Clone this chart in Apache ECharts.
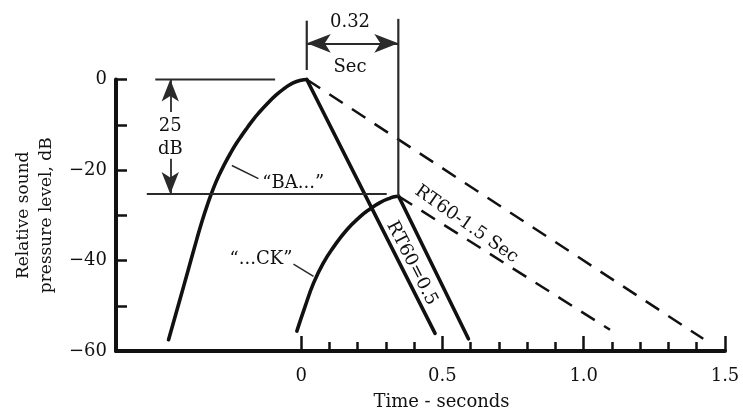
<!DOCTYPE html>
<html>
<head>
<meta charset="utf-8">
<script src="https://cdn.jsdelivr.net/npm/echarts@6/dist/echarts.min.js"></script>
<style>
html,body{margin:0;padding:0;background:#fff;}
#c{width:743px;height:417px;}
</style>
</head>
<body>
<div id="c"></div>
<script>
// ---------- data ----------
const xTickValues = [0, 0.5, 1.0, 1.5];
const xMinorTickValues = [0.1, 0.2, 0.3, 0.4, 0.6, 0.7, 0.8, 0.9, 1.1, 1.2, 1.3, 1.4];
const yTickValues = [-60, -50, -40, -30, -20, -10, 0];
const yLabelValues = [-60, -40, -20, 0];

// "BA..." envelope
const baTime  = [-0.469, -0.43, -0.40, -0.37, -0.35, -0.33, -0.31, -0.29, -0.27, -0.25, -0.23, -0.21, -0.19, -0.17, -0.15, -0.12, -0.09, -0.06, -0.03, 0.0, 0.02];
const baLevel = [-57.5, -48.9, -42.2, -35.5, -31.2, -27.4, -24.0, -21.1, -18.6, -16.3, -14.2, -12.35, -10.6, -8.9, -7.4, -5.35, -3.5, -2.0, -0.8, -0.14, 0];

// "...CK" envelope
const ckTime  = [-0.015, 0.014, 0.044, 0.079, 0.114, 0.162, 0.209, 0.244, 0.279, 0.315, 0.335, 0.345];
const ckLevel = [-55.6, -50.2, -45.0, -40.5, -37.1, -33.2, -30.3, -28.6, -27.2, -26.2, -25.85, -25.8];

// decays: [time, level] pairs
const decayBA05 = [[0.02, 0], [0.474, -56.1]];     // RT60 = 0.5 from "BA" peak
const decayCK05 = [[0.345, -25.8], [0.592, -57.3]]; // RT60 = 0.5 from "CK" peak
const decayBA15 = [[0.02, 0], [1.423, -57.3]];     // RT60 = 1.5
const decayCK15 = [[0.345, -25.8], [1.093, -55.3]];

// reference lines
const refTop    = [[-0.516, 0], [-0.092, 0]];
const refLow    = [[-0.546, -25.3], [0.303, -25.3]];
const markLeft  = [[0.02, 13.0], [0.02, 2.1]];
const markRight = [[0.344, 13.4], [0.344, -25.8]];
const leaderBA  = [[-0.245, -19.0], [-0.151, -21.9]];
const leaderCK  = [[-0.027, -40.8], [0.044, -43.5]];

// arrows (start, tip)
const arrowUp25   = [[-0.463, -7.2], [-0.463, 0]];
const arrowDown25 = [[-0.463, -17.5], [-0.463, -25.3]];
const arrowSpan   = [[0.02, 8.0], [0.344, 8.0]];

// annotation texts
const noteText  = ['0.32', 'Sec', '25', 'dB', '\u201cBA...\u201d', '\u201c...CK\u201d', 'RT60=0.5', 'RT60-1.5 Sec'];
const noteTime  = [0.173, 0.173, -0.463, -0.463, -0.028, -0.142, 0.392, 0.585];
const noteLevel = [12.6, 2.8, -10.3, -15.4, -23.0, -39.7, -40.6, -32.0];
const noteAngle = [0, 0, 0, 0, 0, 0, -63, -35];

// ---------- chart ----------
const FONT = 'DejaVu Serif';
const INK = '#111';
const THIN = '#2a2a2a';

const zip = (a, b) => a.map((v, i) => [v, b[i]]);

function lineSeries(data, opts) {
  return Object.assign({
    type: 'line', data: data, symbol: 'none', silent: true, clip: false,
    smooth: false, animation: false,
    lineStyle: { color: INK, width: 3.6, cap: 'round', join: 'round' }
  }, opts || {});
}

function arrowSeries(seg, both, size) {
  return {
    type: 'lines', coordinateSystem: 'cartesian2d', silent: true, clip: false, animation: false,
    symbol: [both ? 'arrow' : 'none', 'arrow'], symbolSize: [size, size],
    lineStyle: { color: THIN, width: 1.8, opacity: 1 },
    itemStyle: { color: INK },
    data: [{ coords: seg }]
  };
}

const chart = echarts.init(document.getElementById('c'));

const option = {
  animation: false,
  backgroundColor: '#fff',
  grid: { left: 116, right: 18, top: 79.5, bottom: 62 },
  xAxis: [{
    type: 'value', min: -0.655, max: 1.5, position: 'bottom',
    name: 'Time - seconds', nameLocation: 'middle', nameGap: 41,
    nameTextStyle: { fontFamily: FONT, fontSize: 18, color: INK, lineHeight: 20, padding: [0, 0, 0, 42] },
    axisLine: { onZero: false, lineStyle: { color: INK, width: 4 } },
    axisTick: { inside: true, length: 15, customValues: xTickValues, lineStyle: { color: INK, width: 2.5 } },
    axisLabel: { customValues: xTickValues, margin: 16, fontFamily: FONT, fontSize: 18, color: INK,
      formatter: v => (v === 0 ? '0' : v.toFixed(1)) },
    splitLine: { show: false }
  }, {
    type: 'value', min: -0.655, max: 1.5, position: 'bottom',
    axisLine: { show: false, onZero: false },
    axisTick: { inside: true, length: 9, customValues: xMinorTickValues, lineStyle: { color: INK, width: 2.5 } },
    axisLabel: { show: false },
    splitLine: { show: false }
  }],
  yAxis: [{
    type: 'value', min: -60, max: 0, interval: 10,
    name: 'Relative sound\npressure level, dB', nameLocation: 'middle', nameGap: 57,
    nameTextStyle: { fontFamily: FONT, fontSize: 17, color: INK, lineHeight: 23 },
    axisLine: { onZero: false, lineStyle: { color: INK, width: 4 } },
    axisTick: { inside: true, length: 11, customValues: yTickValues, lineStyle: { color: INK, width: 2.5 } },
    axisLabel: { customValues: yLabelValues, margin: 9, fontFamily: FONT, fontSize: 18, color: INK,
      formatter: v => (v < 0 ? '\u2212' + Math.abs(v) : '0') },
    splitLine: { show: false }
  }],
  series: [
    lineSeries(zip(baTime, baLevel), { smooth: true }),
    lineSeries(zip(ckTime, ckLevel), { smooth: true }),
    lineSeries(decayBA05),
    lineSeries(decayCK05),
    lineSeries(decayBA15, { lineStyle: { color: INK, width: 2.5, type: [16, 11] } }),
    lineSeries(decayCK15, { lineStyle: { color: INK, width: 2.5, type: [16, 11] } }),
    lineSeries(refTop,    { lineStyle: { color: THIN, width: 1.8 } }),
    lineSeries(refLow,    { lineStyle: { color: THIN, width: 1.8 } }),
    lineSeries(markLeft,  { lineStyle: { color: THIN, width: 2.2 } }),
    lineSeries(markRight, { lineStyle: { color: THIN, width: 2.2 } }),
    lineSeries(leaderBA,  { lineStyle: { color: THIN, width: 1.5 } }),
    lineSeries(leaderCK,  { lineStyle: { color: THIN, width: 1.5 } }),
    arrowSeries(arrowUp25, false, [13, 22]),
    arrowSeries(arrowDown25, false, [13, 22]),
    arrowSeries(arrowSpan, true, [14, 24]),
    {
      type: 'scatter', silent: true, clip: false, symbolSize: 1,
      itemStyle: { color: 'rgba(0,0,0,0)' },
      data: noteText.map((t, i) => ({
        name: t, value: [noteTime[i], noteLevel[i]],
        label: { rotate: noteAngle[i] }
      })),
      label: { show: true, position: 'inside', formatter: '{b}', fontFamily: FONT, fontSize: 18,
        color: INK, textBorderWidth: 0, opacity: 1 }
    }
  ]
};
chart.setOption(option);
</script>
</body>
</html>
